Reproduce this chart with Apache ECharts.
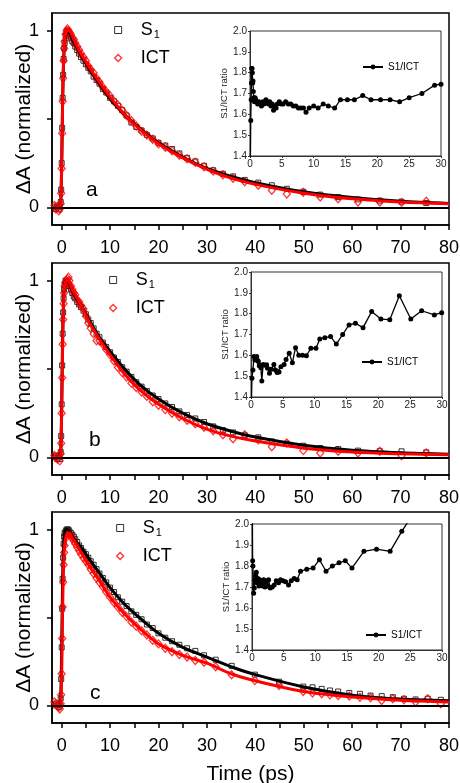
<!DOCTYPE html>
<html>
<head>
<meta charset="utf-8">
<script src="https://cdn.jsdelivr.net/npm/echarts@6/dist/echarts.min.js"></script>
<style>
  html, body { margin: 0; padding: 0; background: #fff; }
  #chart { width: 460px; height: 783px; }
</style>
</head>
<body>
<div id="chart"></div>
<script>
// sampling times (ps) of the kinetic traces
const timesAB = [-1.5, -1.2, -0.9, -0.6, -0.4, -0.2, -0.1,
  0, 0.1, 0.2, 0.3, 0.4, 0.5, 0.6,
  0.8, 1.0, 1.2, 1.4, 1.6, 1.9,
  2.2, 2.5, 2.8, 3.2, 3.6, 4.0,
  4.5, 5.0, 5.5, 6.0, 6.6, 7.2, 7.8,
  8.5, 9.2, 10.0, 10.8, 11.6, 12.5, 13.4,
  14.4, 15.4, 16.5, 17.6, 18.8, 20.0,
  21.4, 22.8, 24.3, 25.9, 27.6, 29.4,
  31.3, 33.3, 35.4, 37.8, 40.6, 43.4,
  46.5, 49.9, 53.4, 57.1, 61.2, 65.7,
  70.2, 75.3];
const timesC = [-1.5, -1.2, -0.9, -0.6, -0.4, -0.2, -0.1,
  0, 0.1, 0.2, 0.3, 0.4, 0.5, 0.6,
  0.8, 1.0, 1.2, 1.4, 1.6, 1.9,
  2.2, 2.5, 2.8, 3.2, 3.6, 4.0,
  4.5, 5.0, 5.5, 6.0, 6.6, 7.2, 7.8,
  8.5, 9.2, 10.0, 10.8, 11.6, 12.5, 13.4,
  14.4, 15.4, 16.5, 17.6, 18.8, 20.0,
  21.4, 22.8, 24.3, 25.9, 27.6, 29.4,
  31.8, 35.1, 39.9, 44.9, 49.9, 51.8, 53.7, 55.4, 57.1,
  59.4, 61.6, 63.8, 66.1, 68.4, 70.7, 73.1, 75.6, 78.3];

// panel a
const aS1 = [0.00, -0.01, 0.01, -0.01, 0.00, 0.03, 0.10,
  0.25, 0.45, 0.62, 0.75, 0.84, 0.90, 0.93,
  0.97, 0.99, 1.00, 0.99, 0.98, 0.96,
  0.94, 0.93, 0.91, 0.89, 0.87, 0.85,
  0.83, 0.81, 0.79, 0.77, 0.74, 0.72, 0.70,
  0.67, 0.65, 0.62, 0.60, 0.575, 0.55, 0.52,
  0.48, 0.455, 0.435, 0.41, 0.39, 0.365,
  0.35, 0.33, 0.305, 0.28, 0.26, 0.235,
  0.21, 0.19, 0.175, 0.155, 0.14, 0.125,
  0.105, 0.088, 0.072, 0.058, 0.045, 0.038,
  0.032, 0.024];
const aICT = [0.01, -0.01, 0.00, -0.02, -0.01, 0.02, 0.08,
  0.22, 0.42, 0.60, 0.73, 0.83, 0.90, 0.94,
  0.98, 1.00, 1.01, 1.00, 0.99, 0.98,
  0.96, 0.95, 0.93, 0.91, 0.89, 0.87,
  0.85, 0.83, 0.80, 0.78, 0.76, 0.73, 0.71,
  0.68, 0.655, 0.63, 0.60, 0.58, 0.55, 0.52,
  0.49, 0.46, 0.43, 0.41, 0.385, 0.36,
  0.34, 0.32, 0.295, 0.275, 0.255, 0.23,
  0.205, 0.185, 0.165, 0.145, 0.125, 0.097,
  0.075, 0.085, 0.058, 0.049, 0.030, 0.030,
  0.028, 0.034];

// panel b
const bS1 = [0.00, 0.01, -0.01, 0.00, -0.01, 0.03, 0.12,
  0.30, 0.52, 0.70, 0.82, 0.90, 0.95, 0.98,
  1.00, 1.00, 0.99, 0.98, 0.97, 0.95,
  0.93, 0.91, 0.90, 0.88, 0.865, 0.85,
  0.83, 0.81, 0.78, 0.76, 0.73, 0.70, 0.68,
  0.65, 0.625, 0.595, 0.565, 0.54, 0.51, 0.485,
  0.455, 0.425, 0.40, 0.375, 0.35, 0.33,
  0.305, 0.285, 0.26, 0.24, 0.22, 0.20,
  0.175, 0.154, 0.141, 0.125, 0.113, 0.09,
  0.078, 0.066, 0.053, 0.047, 0.038, 0.035,
  0.034, 0.028];
const bICT = [0.01, 0.00, -0.01, 0.01, -0.02, 0.02, 0.08,
  0.25, 0.45, 0.64, 0.78, 0.87, 0.93, 0.97,
  0.99, 1.00, 1.01, 1.02, 1.00, 0.97,
  0.95, 0.93, 0.92, 0.89, 0.88, 0.86,
  0.84, 0.80, 0.76, 0.73, 0.70, 0.66, 0.66,
  0.64, 0.61, 0.58, 0.545, 0.51, 0.48, 0.455,
  0.42, 0.395, 0.37, 0.345, 0.315, 0.295,
  0.27, 0.25, 0.23, 0.21, 0.19, 0.17,
  0.15, 0.128, 0.105, 0.128, 0.10, 0.06,
  0.081, 0.038, 0.024, 0.034, 0.024, 0.034,
  0.009, 0.024];

// panel c
const cS1 = [0.00, 0.01, 0.00, -0.01, 0.00, 0.04, 0.15,
  0.33, 0.55, 0.72, 0.84, 0.92, 0.96, 0.98,
  0.99, 1.00, 1.00, 1.00, 0.99, 0.98,
  0.97, 0.96, 0.945, 0.93, 0.91, 0.895,
  0.875, 0.86, 0.84, 0.82, 0.80, 0.775, 0.75,
  0.725, 0.70, 0.67, 0.645, 0.615, 0.59, 0.565,
  0.535, 0.515, 0.49, 0.46, 0.44, 0.41,
  0.385, 0.365, 0.345, 0.325, 0.31, 0.285,
  0.26, 0.225, 0.175, 0.135, 0.107, 0.103, 0.094, 0.085, 0.079,
  0.071, 0.066, 0.056, 0.053, 0.047, 0.038, 0.034, 0.038, 0.032];
const cICT = [0.02, 0.01, 0.00, -0.01, -0.02, 0.01, 0.06,
  0.18, 0.38, 0.56, 0.70, 0.80, 0.87, 0.91,
  0.95, 0.97, 0.98, 0.98, 0.975, 0.965,
  0.95, 0.935, 0.92, 0.90, 0.88, 0.86,
  0.838, 0.82, 0.80, 0.775, 0.75, 0.725, 0.70,
  0.675, 0.645, 0.615, 0.585, 0.56, 0.53, 0.505,
  0.475, 0.45, 0.425, 0.40, 0.37, 0.35,
  0.325, 0.305, 0.29, 0.275, 0.255, 0.245,
  0.22, 0.175, 0.141, 0.113, 0.079, 0.07, 0.066, 0.06, 0.056,
  0.053, 0.047, 0.043, 0.028, 0.038, 0.032, 0.019, 0.038, 0.009];

// fitted curves
const fitT = [-2, -1, -0.4, -0.2, 0, 0.2, 0.4, 0.6, 0.9, 1.2, 1.6, 2.2, 3, 4,
  6, 8, 10, 13, 16, 20, 25, 30, 35, 40, 50, 60, 70, 80];
const aS1Fit = [0, 0, 0, 0.03, 0.25, 0.62, 0.84, 0.93, 0.98, 1.0, 0.99, 0.95, 0.91, 0.86,
  0.77, 0.69, 0.615, 0.525, 0.45, 0.365, 0.285, 0.22, 0.175, 0.14, 0.088, 0.055, 0.034, 0.022];
const aICTFit = [0, 0, 0, 0.02, 0.22, 0.6, 0.83, 0.94, 0.99, 1.0, 1.0, 0.97, 0.92, 0.87,
  0.78, 0.70, 0.625, 0.525, 0.445, 0.36, 0.28, 0.215, 0.165, 0.13, 0.08, 0.048, 0.03, 0.02];
const bS1Fit = [0, 0, 0, 0.03, 0.3, 0.7, 0.9, 0.98, 1.0, 1.0, 0.98, 0.94, 0.9, 0.86,
  0.76, 0.67, 0.6, 0.5, 0.415, 0.33, 0.25, 0.19, 0.148, 0.115, 0.068, 0.04, 0.026, 0.018];
const bICTFit = [0, 0, 0, 0.02, 0.25, 0.64, 0.87, 0.97, 1.0, 1.0, 0.99, 0.95, 0.91, 0.86,
  0.75, 0.66, 0.58, 0.47, 0.385, 0.3, 0.22, 0.16, 0.12, 0.092, 0.052, 0.03, 0.02, 0.014];
const cS1Fit = [0, 0, 0, 0.04, 0.33, 0.72, 0.92, 0.98, 1.0, 1.0, 0.99, 0.96, 0.93, 0.9,
  0.82, 0.745, 0.67, 0.575, 0.5, 0.41, 0.33, 0.275, 0.22, 0.175, 0.105, 0.058, 0.036, 0.026];
const cICTFit = [0, 0, 0, 0.01, 0.18, 0.56, 0.8, 0.91, 0.96, 0.98, 0.98, 0.95, 0.92, 0.87,
  0.78, 0.70, 0.615, 0.52, 0.44, 0.35, 0.285, 0.24, 0.18, 0.14, 0.079, 0.048, 0.03, 0.02];

// S1/ICT ratio insets
const ratioA_t = [0.05, 0.12, 0.18, 0.22, 0.27, 0.32, 0.37, 0.42, 0.47, 0.52,
  0.6, 0.7, 0.8, 0.9, 1.0, 1.2, 1.4, 1.6, 1.8, 2.0,
  2.2, 2.5, 2.7, 2.9, 3.1, 3.3, 3.5, 3.7, 3.9, 4.1,
  4.3, 4.6, 4.9, 5.2, 5.6, 6.0, 6.4, 6.8, 7.2, 7.6,
  8.0, 8.4, 8.8, 9.3, 10.0, 10.7, 11.5, 12.3, 13.3, 14.2,
  15.3, 16.4, 17.7, 19.0, 20.5, 22.0, 23.5, 25.0, 27.0, 29.0,
  30.0];
const ratioA_v = [1.35, 1.57, 1.67, 1.75, 1.82, 1.82, 1.80, 1.75, 1.76, 1.71,
  1.68, 1.66, 1.68, 1.67, 1.66, 1.65, 1.66, 1.65, 1.64, 1.66,
  1.65, 1.67, 1.66, 1.65, 1.66, 1.64, 1.65, 1.62, 1.64, 1.63,
  1.65, 1.66, 1.65, 1.65, 1.66, 1.65, 1.65, 1.64, 1.64, 1.63,
  1.63, 1.63, 1.61, 1.63, 1.64, 1.63, 1.65, 1.64, 1.63, 1.67,
  1.67, 1.67, 1.69, 1.67, 1.67, 1.67, 1.66, 1.68, 1.70, 1.74,
  1.745];
const ratioB_t = [0.05, 0.15, 0.3, 0.47, 0.6, 0.75, 0.9, 1.05, 1.15, 1.3,
  1.4, 1.55, 1.7, 1.9, 2.2, 2.45, 2.6, 2.9, 3.2, 3.6,
  3.85, 4.1, 4.4, 4.7, 5.2, 5.5, 6.0, 6.5, 7.0, 7.5,
  8.1, 8.7, 9.4, 10.2, 10.8, 11.6, 12.5, 13.4, 14.4, 15.4,
  16.4, 17.6, 18.95, 20.4, 21.8, 23.3, 25.1, 26.8, 28.8, 29.95];
const ratioB_v = [1.35, 1.49, 1.53, 1.594, 1.578, 1.59, 1.594, 1.575, 1.57, 1.55,
  1.553, 1.54, 1.477, 1.556, 1.553, 1.555, 1.538, 1.514, 1.533, 1.556,
  1.53, 1.518, 1.52, 1.545, 1.556, 1.58, 1.61, 1.565, 1.637, 1.60,
  1.60, 1.598, 1.634, 1.634, 1.678, 1.685, 1.69, 1.654, 1.70, 1.746,
  1.754, 1.733, 1.81, 1.774, 1.771, 1.886, 1.774, 1.814, 1.794, 1.805];
const ratioC_t = [0.03, 0.1, 0.15, 0.26, 0.37, 0.47, 0.58, 0.68, 0.79, 0.94,
  1.1, 1.2, 1.36, 1.52, 1.68, 1.84, 2.05, 2.2, 2.41, 2.62,
  2.88, 3.2, 3.51, 3.83, 4.2, 4.51, 4.88, 5.3, 5.77, 6.19,
  6.66, 7.13, 7.66, 8.65, 9.65, 10.65, 11.69, 12.69, 13.74, 14.73,
  15.78, 17.67, 19.66, 21.81, 23.65, 25.7];
const ratioC_v = [2.2, 1.825, 1.80, 1.67, 1.695, 1.735, 1.755, 1.77, 1.72, 1.74,
  1.705, 1.735, 1.72, 1.73, 1.705, 1.735, 1.70, 1.73, 1.705, 1.735,
  1.695, 1.70, 1.71, 1.73, 1.72, 1.735, 1.73, 1.725, 1.71, 1.73,
  1.74, 1.735, 1.775, 1.785, 1.79, 1.83, 1.775, 1.80, 1.815, 1.825,
  1.79, 1.87, 1.88, 1.87, 1.965, 2.06];

const xTicks = [0, 5, 10, 15, 20, 25, 30, 35, 40, 45, 50, 55, 60, 65, 70, 75, 80];
const xLabels = [0, 10, 20, 30, 40, 50, 60, 70, 80];
const yTicks = [0, 0.5, 1];
const yLabels = [0, 1];
const panelLetters = ['a', 'b', 'c'];

function zip(xs, ys) {
    return xs.map((x, i) => [x, ys[i]]);
}

const panels = [
    {t: timesAB, s1: aS1, ict: aICT, s1Fit: aS1Fit, ictFit: aICTFit, rt: ratioA_t, rv: ratioA_v},
    {t: timesAB, s1: bS1, ict: bICT, s1Fit: bS1Fit, ictFit: bICTFit, rt: ratioB_t, rv: ratioB_v},
    {t: timesC, s1: cS1, ict: cICT, s1Fit: cS1Fit, ictFit: cICTFit, rt: ratioC_t, rv: ratioC_v}
];

// layout (pixels)
const mainGrids = [
    {left: 52, top: 13, width: 397, height: 212},
    {left: 52, top: 263, width: 397, height: 212},
    {left: 52, top: 512, width: 397, height: 211}
];
const insetGrids = [
    {left: 250, top: 31, width: 191, height: 125},
    {left: 251, top: 272, width: 191, height: 125},
    {left: 252, top: 524, width: 190, height: 126}
];
const mainLegendPos = [{left: 109, top: 16}, {left: 104, top: 266}, {left: 111, top: 514}];
const insetLegendPos = [{left: 357, top: 57}, {left: 356, top: 352}, {left: 360, top: 625}];
const letterPos = [{left: 86, top: 180}, {left: 89, top: 430}, {left: 90, top: 683}];

const FONT = 'Liberation Sans, Arial, sans-serif';
const hollow = 'rgba(0,0,0,0)';

let grid = [], xAxis = [], yAxis = [], series = [], legend = [], title = [];

mainGrids.forEach((g, i) => {
    grid.push(Object.assign({show: true, borderColor: '#000', borderWidth: 1.5,
        backgroundColor: '#fff', outerBoundsMode: 'none', containLabel: false}, g));
    xAxis.push({
        type: 'value', gridIndex: i, min: -2, max: 80,
        axisLine: {onZero: false, lineStyle: {color: '#000', width: 1.5}},
        axisTick: {length: 5, customValues: xTicks, lineStyle: {color: '#000', width: 1.5}},
        axisLabel: {customValues: xLabels, fontSize: 18, color: '#000', margin: 14, fontFamily: FONT},
        splitLine: {show: false},
        name: i === 2 ? 'Time (ps)' : '',
        nameLocation: 'middle', nameGap: 41, nameMoveOverlap: false,
        nameTextStyle: {fontSize: 21, color: '#000', fontFamily: FONT}
    });
    yAxis.push({
        type: 'value', gridIndex: i, min: -0.1, max: 1.1,
        axisLine: {onZero: false, lineStyle: {color: '#000', width: 1.5}},
        axisTick: {length: 5, customValues: yTicks, lineStyle: {color: '#000', width: 1.5}},
        axisLabel: {customValues: yLabels, fontSize: 18, color: '#000', margin: 13, fontFamily: FONT},
        splitLine: {show: false},
        name: 'ΔA (normalized)', nameLocation: 'middle', nameGap: 17, nameMoveOverlap: false,
        nameTextStyle: {fontSize: 21, color: '#000', fontFamily: FONT}
    });
});

insetGrids.forEach((g, i) => {
    grid.push(Object.assign({show: true, borderColor: '#333', borderWidth: 1,
        backgroundColor: '#fff', outerBoundsMode: 'none', containLabel: false}, g));
    xAxis.push({
        type: 'value', gridIndex: 3 + i, min: 0, max: 30, interval: 5,
        axisLine: {onZero: false, lineStyle: {color: '#333', width: 1}},
        axisTick: {length: 2, lineStyle: {color: '#333'}},
        axisLabel: {fontSize: 10, color: '#222', margin: 3, fontFamily: FONT},
        splitLine: {show: false}
    });
    yAxis.push({
        type: 'value', gridIndex: 3 + i, min: 1.4, max: 2.0, interval: 0.1,
        axisLine: {onZero: false, lineStyle: {color: '#333', width: 1}},
        axisTick: {length: 2, lineStyle: {color: '#333'}},
        axisLabel: {fontSize: 10, color: '#222', margin: 3, fontFamily: FONT,
            formatter: v => v.toFixed(1)},
        splitLine: {show: false},
        name: 'S1/ICT ratio', nameLocation: 'middle', nameGap: 21,
        nameTextStyle: {fontSize: 9.5, color: '#222', fontFamily: FONT}
    });
});

panels.forEach((p, i) => {
    series.push({
        name: 'S1', type: 'scatter', xAxisIndex: i, yAxisIndex: i,
        data: zip(p.t, p.s1), symbol: 'rect', symbolSize: 5,
        itemStyle: {color: hollow, borderColor: '#000', borderWidth: 1}
    });
    series.push({
        name: 'S1 fit', type: 'line', xAxisIndex: i, yAxisIndex: i,
        data: zip(fitT, p.s1Fit), showSymbol: false, smooth: 0.3,
        lineStyle: {color: '#000', width: 3}, itemStyle: {color: '#000'},
        markLine: {
            silent: true, symbol: 'none', label: {show: false},
            lineStyle: {color: '#000', width: 2, type: 'solid'},
            data: [{yAxis: 0}]
        }
    });
    series.push({
        name: 'ICT', type: 'scatter', xAxisIndex: i, yAxisIndex: i,
        data: zip(p.t, p.ict), symbol: 'diamond', symbolSize: [7, 8],
        itemStyle: {color: hollow, borderColor: '#ff0000', borderWidth: 1.3}
    });
    series.push({
        name: 'ICT fit', type: 'line', xAxisIndex: i, yAxisIndex: i,
        data: zip(fitT, p.ictFit), showSymbol: false, smooth: 0.3,
        lineStyle: {color: '#ff0000', width: 3}, itemStyle: {color: '#ff0000'}
    });
    series.push({
        name: 'S1/ICT', type: 'line', xAxisIndex: 3 + i, yAxisIndex: 3 + i,
        data: zip(p.rt, p.rv), symbol: 'circle', symbolSize: 5, clip: true,
        lineStyle: {color: '#000', width: 1.3}, itemStyle: {color: '#000'}
    });

    legend.push(Object.assign({
        orient: 'vertical', itemWidth: 7, itemHeight: 7, itemGap: 9, selectedMode: false,
        data: [
            {name: 'S1', icon: 'rect', itemStyle: {color: hollow, borderColor: '#000', borderWidth: 1}},
            {name: 'ICT', icon: 'diamond', itemStyle: {color: hollow, borderColor: '#ff0000', borderWidth: 1.3}}
        ],
        formatter: name => name === 'S1' ? '{sp|}{t|S}{sub|1}' : '{sp|}{t|ICT}',
        textStyle: {
            fontFamily: FONT, color: '#000',
            rich: {
                sp: {width: 14},
                t: {fontSize: 18, color: '#000', fontFamily: FONT},
                sub: {fontSize: 11, color: '#000', fontFamily: FONT, padding: [9, 0, 0, 1]}
            }
        }
    }, mainLegendPos[i]));
    legend.push(Object.assign({
        itemWidth: 20, itemHeight: 6, selectedMode: false,
        data: ['S1/ICT'],
        textStyle: {fontSize: 10, color: '#000', fontFamily: FONT}
    }, insetLegendPos[i]));

    title.push(Object.assign({
        text: panelLetters[i], padding: 0,
        textStyle: {fontSize: 21, fontWeight: 'normal', color: '#000', fontFamily: FONT}
    }, letterPos[i]));
});

const chart = echarts.init(document.getElementById('chart'));
chart.setOption({
    animation: false,
    textStyle: {fontFamily: FONT},
    title: title,
    legend: legend,
    grid: grid,
    xAxis: xAxis,
    yAxis: yAxis,
    series: series
});
</script>
</body>
</html>
